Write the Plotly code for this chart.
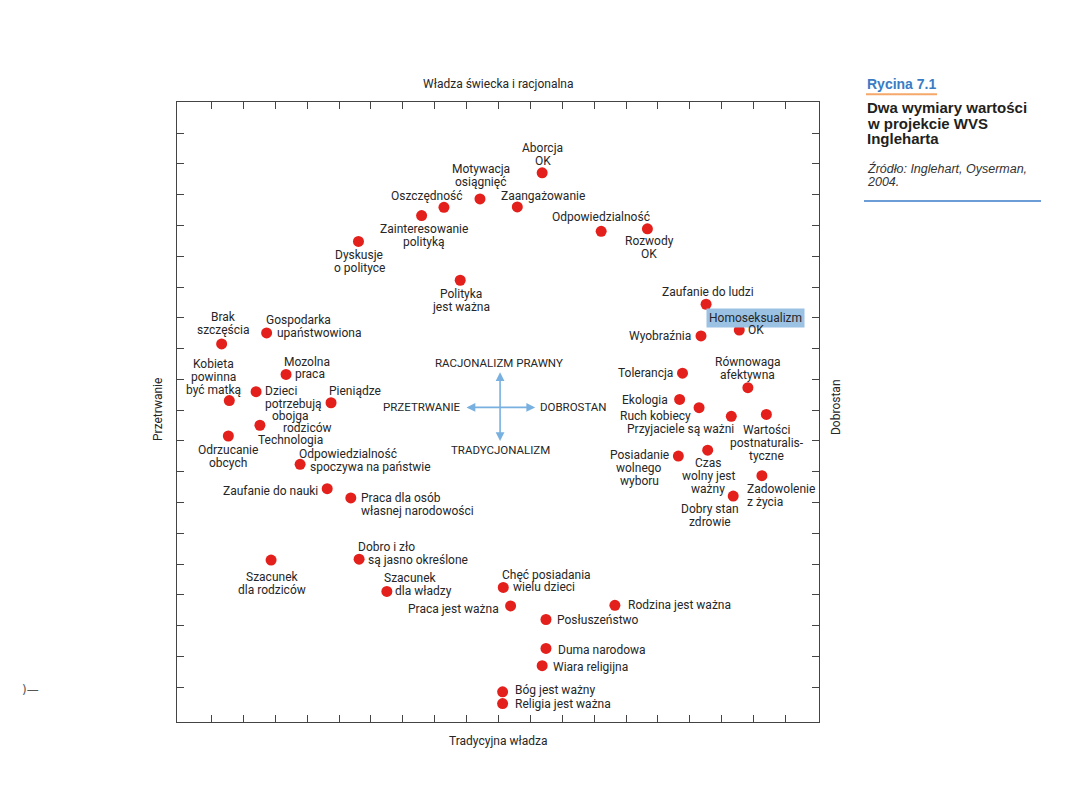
import plotly.graph_objects as go

# ---------------- data ----------------
labels = [
    "Aborcja\nOK", "Motywacja\nosiągnięć", "Oszczędność", "Zaangażowanie", "Zainteresowanie\npolityką",
    "Odpowiedzialność", "Rozwody\nOK", "Dyskusje\no polityce", "Polityka\njest ważna", "Zaufanie do ludzi",
    "Homoseksualizm\nOK", "Wyobraźnia", "Brak\nszczęścia", "Gospodarka\nupaństwowiona", "Tolerancja",
    "Mozolna\npraca", "Równowaga\nafektywna", "Dzieci\npotrzebują\nobojga\nrodziców", "Ekologia",
    "Kobieta\npowinna\nbyć matką", "Pieniądze", "Ruch kobiecy", "Wartości\npostnaturalis-\ntyczne",
    "Przyjaciele są ważni", "Technologia", "Odrzucanie\nobcych", "Czas\nwolny jest\nważny",
    "Posiadanie\nwolnego\nwyboru", "Odpowiedzialność\nspoczywa na państwie", "Zadowolenie\nz życia",
    "Zaufanie do nauki", "Dobry stan\nzdrowie", "Praca dla osób\nwłasnej narodowości",
    "Szacunek\ndla rodziców", "Dobro i zło\nsą jasno określone", "Chęć posiadania\nwielu dzieci",
    "Szacunek\ndla władzy", "Praca jest ważna", "Rodzina jest ważna", "Posłuszeństwo", "Duma narodowa",
    "Wiara religijna", "Bóg jest ważny", "Religia jest ważna",
]
x_vals = [11.37, 9.42, 8.29, 10.59, 7.59, 13.22, 14.67, 5.61, 8.80, 16.51,
          17.55, 16.35, 1.32, 2.73, 15.77, 3.34, 17.82, 2.40, 15.68, 1.56,
          4.75, 16.29, 18.40, 17.30, 2.52, 1.53, 16.56, 15.64, 3.78, 18.26,
          4.63, 17.36, 5.37, 2.87, 5.63, 10.15, 6.50, 10.38, 13.65, 11.49,
          11.49, 11.37, 10.13, 10.13]
y_vals = [17.71, 16.86, 16.59, 16.60, 16.32, 15.81, 15.89, 15.48, 14.22, 13.44,
          12.60, 12.41, 12.15, 12.51, 11.20, 11.16, 10.73, 10.60, 10.35, 10.31,
          10.24, 10.08, 9.86, 9.80, 9.51, 9.16, 8.70, 8.51, 8.24, 7.87,
          7.45, 7.21, 7.15, 5.13, 5.16, 4.24, 4.11, 3.64, 3.66, 3.20,
          2.26, 1.70, 0.85, 0.47]
tick_vals = list(range(1, 20))
axis_titles = {"top": "Władza świecka i racjonalna", "bottom": "Tradycyjna władza",
               "left": "Przetrwanie", "right": "Dobrostan"}
compass = {"up": "RACJONALIZM PRAWNY", "left": "PRZETRWANIE", "right": "DOBROSTAN", "down": "TRADYCJONALIZM"}
caption_num = "Rycina 7.1"
caption_title = ["Dwa wymiary wartości", "w projekcie WVS", "Ingleharta"]
caption_src = ["Źródło: Inglehart, Oyserman,", "2004."]
highlighted = "Homoseksualizm\nOK"

# ---------------- style ----------------
FONT = "Roboto"
TXT = "#262626"
RED = "#e3201b"
ARROW = "#78b0e0"
LINE_H = 13
OFF = 8                      # page body margin
W, H = 1080 - OFF, 810 - OFF

# label placement: (anchor, dx, dy of first line) or per-line list; pixels, dy downward
placements = [
    ("c", 0.7, -25), ("c", 1, -30), ("c", -17.3, -11.3), ("c", 25.2, -11.3), ("c", 2.8, 13),
    ("c", -0.3, -14.3), ("c", 1.7, 12.5), ("c", 0.7, 13.5), ("c", 0.7, 14), ("c", 1.7, -12.6),
    [("c", 16.4, -12), ("l", 7.4, 0)], ("r", -9.3, 0), ("c", 1.6, -27.3),
    [("l", -1.7, -12.7), ("l", 9.3, 0)], ("r", -9, 0),
    [("l", -2.7, -12), ("l", 8, 0)], ("c", 0, -26),
    [("l", 8, -0.5), ("l", 8, 12), ("c", 34.8, 24), ("c", 51.5, 36)], ("r", -10.7, 0.7),
    ("c", -16, -36.4), ("c", 23.7, -11.7), ("r", -6.7, 8.3), ("c", 0.4, 16),
    ("r", 3.7, 12.4), ("c", 30.3, 14.7), ("c", 0, 14), ("c", 0.6, 12.7),
    ("c", -39.3, -1), [("l", -1.7, -10), ("l", 9, 2.4)], ("l", -16.3, 13.6),
    ("r", -8.3, 2.3), ("c", -23, 13), ("l", 9.3, 0),
    ("c", 0.7, 16.7), [("l", -2.3, -11.7), ("l", 8.3, 1)], [("l", -2.6, -12.3), ("l", 8.4, 0)],
    [("l", -3.4, -13.6), ("l", 7.3, 0)], ("r", -10.3, 3.5), ("l", 11.7, 0), ("l", 10, 0.7), ("l", 11.3, 1.7),
    ("l", 9.7, 1.3), ("l", 11.3, -1.7), ("l", 11.3, 0),
]
ANCH = {"c": "center", "l": "left", "r": "right"}

fig = go.Figure()
fig.add_trace(go.Scatter(
    x=x_vals, y=y_vals, mode="markers",
    marker=dict(size=11, color=RED, line=dict(width=0)),
    hoverinfo="text", hovertext=[l.replace("\n", " ") for l in labels], showlegend=False,
))

ann = []
hi = labels.index(highlighted)
for i, (lab, x, y) in enumerate(zip(labels, x_vals, y_vals)):
    lines = lab.split("\n")
    spec = placements[i]
    if isinstance(spec, tuple):
        a, dx, dy0 = spec
        specs = [(a, dx, dy0 + k * LINE_H) for k in range(len(lines))]
    else:
        specs = spec
    for k, (txt, (a, dx, dy)) in enumerate(zip(lines, specs)):
        d = dict(x=x, y=y, xref="x", yref="y", text=txt, showarrow=False,
                 xanchor=ANCH[a], yanchor="middle", xshift=dx, yshift=-dy,
                 font=dict(family=FONT, size=12, color=TXT), borderpad=0)
        if i == hi and k == 0:
            d.update(bgcolor="#9cc2e3", borderpad=2)
        ann.append(d)

# compass arrows at centre of the chart
CX, CY = 10.05, 10.09
HX, HY = 1.1, 1.14
for (x0, y0, x1, y1) in [(CX - HX, CY, CX + HX, CY), (CX, CY - HY, CX, CY + HY)]:
    ann.append(dict(x=x1, y=y1, ax=x0, ay=y0, xref="x", yref="y", axref="x", ayref="y",
                    text="", showarrow=True, arrowside="end+start", arrowhead=2,
                    arrowsize=1.1, arrowwidth=1.6, arrowcolor=ARROW, standoff=0, startstandoff=0))
cfont = dict(family=FONT, size=11.5, color=TXT)
ann += [
    dict(x=CX, y=CY, xref="x", yref="y", text=compass["up"], showarrow=False, xanchor="center",
         yanchor="middle", xshift=-0.7, yshift=44, font=cfont),
    dict(x=CX, y=CY, xref="x", yref="y", text=compass["down"], showarrow=False, xanchor="center",
         yanchor="middle", xshift=0, yshift=-43, font=cfont),
    dict(x=CX, y=CY, xref="x", yref="y", text=compass["left"], showarrow=False, xanchor="right",
         yanchor="middle", xshift=-38, yshift=0, font=cfont, borderpad=0),
    dict(x=CX, y=CY, xref="x", yref="y", text=compass["right"], showarrow=False, xanchor="left",
         yanchor="middle", xshift=39, yshift=0, font=cfont, borderpad=0),
]

def P(px, py):
    return (px - OFF) / W, 1 - (py - OFF) / H

tfont = dict(family=FONT, size=12, color=TXT)
for key, (px, py, ang) in {"top": (498, 84, 0), "bottom": (498, 741, 0),
                           "left": (158, 410, -90), "right": (836, 407, -90)}.items():
    xp, yp = P(px, py)
    ann.append(dict(x=xp, y=yp, xref="paper", yref="paper", text=axis_titles[key], showarrow=False,
                    xanchor="center", yanchor="middle", textangle=ang, font=tfont))

# caption block
xp, yp = P(866, 84)
ann.append(dict(x=xp, y=yp, xref="paper", yref="paper", text=f"<b>{caption_num}</b>", showarrow=False,
                xanchor="left", yanchor="middle", borderpad=0,
                font=dict(family="Liberation Sans", size=14, color="#3a7cc4")))
for k, t in enumerate(caption_title):
    xp, yp = P(866, 107.7 + 15.3 * k)
    ann.append(dict(x=xp, y=yp, xref="paper", yref="paper", text=f"<b>{t}</b>", showarrow=False,
                    xanchor="left", yanchor="middle", borderpad=0,
                    font=dict(family="Liberation Sans", size=15, color="#231f20")))
for k, t in enumerate(caption_src):
    xp, yp = P(866, 168 + 14 * k)
    ann.append(dict(x=xp, y=yp, xref="paper", yref="paper", text=f"<i>{t}</i>", showarrow=False,
                    xanchor="left", yanchor="middle", borderpad=0,
                    font=dict(family="Liberation Sans", size=12.5, color="#333333")))
xp, yp = P(30, 690)
ann.append(dict(x=xp, y=yp, xref="paper", yref="paper", text=")—", showarrow=False,
                xanchor="center", yanchor="middle", font=dict(family="DejaVu Sans", size=12, color="#555555")))

shapes = []
x0, y0 = P(866, 94.3); x1, _ = P(937, 94.3)
shapes.append(dict(type="line", xref="paper", yref="paper", x0=x0, x1=x1, y0=y0, y1=y0,
                   line=dict(color="#f5a86a", width=2)))
x0, y0 = P(864, 201); x1, _ = P(1041, 201)
shapes.append(dict(type="line", xref="paper", yref="paper", x0=x0, x1=x1, y0=y0, y1=y0,
                   line=dict(color="#3d7cc9", width=1.5)))

axis_common = dict(showgrid=False, zeroline=False, showticklabels=False, tickvals=tick_vals,
                   ticks="inside", ticklen=7, tickwidth=1, tickcolor="#444444",
                   showline=True, linecolor="#444444", linewidth=1.3, mirror="ticks", fixedrange=True)
fig.update_layout(
    width=W, height=H, paper_bgcolor="white", plot_bgcolor="white",
    margin=dict(l=0, r=0, t=0, b=0),
    xaxis=dict(range=[-0.08, 20.05], domain=[(177 - OFF) / W, (819 - OFF) / W], **axis_common),
    yaxis=dict(range=[-0.12, 20.0], domain=[1 - (721.7 - OFF) / H, 1 - (102.3 - OFF) / H], **axis_common),
    annotations=ann, shapes=shapes, showlegend=False,
)
fig.write_html("out.html")
